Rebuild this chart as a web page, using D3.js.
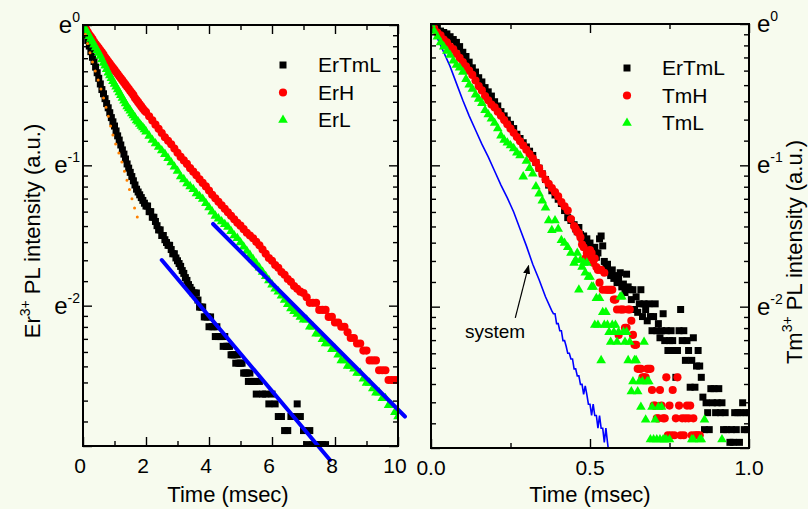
<!DOCTYPE html>
<html>
<head>
<meta charset="utf-8">
<script src="https://cdn.jsdelivr.net/npm/d3@7"></script>
<style>
  body { margin: 0; background: #f7fbee; }
  svg { display: block; font-family: "Liberation Sans", Arial, sans-serif; }
</style>
</head>
<body>
<svg id="chart" width="808" height="509"></svg>
<script>
'use strict';

// all intensities are stored as ln(I), plotted on an e-based log axis

// ---- left panel: Er3+ decay, time in msec
var leftTimes = [
  0, 0.05, 0.1, 0.15, 0.2, 0.25, 0.3, 0.35, 0.4, 0.45,
  0.5, 0.55, 0.6, 0.65, 0.7, 0.75, 0.8, 0.85, 0.9, 0.95,
  1, 1.05, 1.1, 1.15, 1.2, 1.25, 1.3, 1.35, 1.4, 1.45,
  1.5, 1.55, 1.6, 1.65, 1.7, 1.75, 1.8, 1.85, 1.9, 1.95,
  2, 2.1, 2.2, 2.3, 2.4, 2.5, 2.6, 2.7, 2.8, 2.9,
  3, 3.1, 3.2, 3.3, 3.4, 3.5, 3.6, 3.7, 3.8, 3.9,
  4, 4.1, 4.2, 4.3, 4.4, 4.5, 4.6, 4.7, 4.8, 4.9,
  5, 5.1, 5.2, 5.3, 5.4, 5.5, 5.6, 5.7, 5.8, 5.9,
  6, 6.1, 6.2, 6.3, 6.4, 6.5, 6.6, 6.7, 6.8, 6.9,
  7, 7.1, 7.2, 7.3, 7.4, 7.5, 7.6, 7.7, 7.8, 7.9,
  8, 8.1, 8.2, 8.3, 8.4, 8.5, 8.6, 8.7, 8.8, 8.9,
  9, 9.1, 9.2, 9.3, 9.4, 9.5, 9.6, 9.7, 9.8, 9.9,
  10
];
// ErTmL is sampled more finely where it falls steeply
var leftErTmLTimes = [
  0, 0.05, 0.1, 0.15, 0.2, 0.25, 0.3, 0.35, 0.4, 0.45,
  0.5, 0.55, 0.6, 0.65, 0.7, 0.75, 0.8, 0.85, 0.9, 0.95,
  1, 1.05, 1.1, 1.15, 1.2, 1.25, 1.3, 1.35, 1.4, 1.45,
  1.5, 1.55, 1.6, 1.65, 1.7, 1.75, 1.8, 1.85, 1.9, 1.95,
  2, 2.05, 2.1, 2.15, 2.2, 2.25, 2.3, 2.35, 2.4, 2.45,
  2.5, 2.55, 2.6, 2.65, 2.7, 2.75, 2.8, 2.85, 2.9, 2.95,
  3, 3.05, 3.1, 3.15, 3.2, 3.25, 3.3, 3.35, 3.4, 3.45,
  3.5, 3.55, 3.6, 3.65, 3.7, 3.75, 3.8, 3.85, 3.9, 3.95,
  4, 4.05, 4.1, 4.15, 4.2, 4.25, 4.3, 4.35, 4.4, 4.45,
  4.5, 4.55, 4.6, 4.65, 4.7, 4.75, 4.8, 4.85, 4.9, 4.95,
  5, 5.05, 5.1, 5.15, 5.2, 5.25, 5.3, 5.35, 5.4, 5.45,
  5.5, 5.6, 5.7, 5.8, 5.9,
  6, 6.1, 6.2, 6.3, 6.4, 6.5, 6.6, 6.7, 6.8, 6.9,
  7, 7.1, 7.2, 7.3, 7.4, 7.5, 7.6, 7.7
];
var leftErTmL = [
  0, -0.03, -0.07, -0.11, -0.15, -0.19, -0.23, -0.26, -0.30, -0.34,
  -0.38, -0.42, -0.46, -0.49, -0.525, -0.56, -0.59, -0.625, -0.66, -0.69,
  -0.72, -0.755, -0.79, -0.82, -0.855, -0.89, -0.92, -0.955, -0.99, -1.02,
  -1.05, -1.08, -1.11, -1.14, -1.17, -1.19, -1.21, -1.23, -1.25, -1.27,
  -1.29, -1.29, -1.33, -1.33, -1.37, -1.37, -1.40, -1.43, -1.46, -1.46,
  -1.50, -1.50, -1.53, -1.55, -1.57, -1.57, -1.60, -1.63, -1.63, -1.66,
  -1.68, -1.70, -1.72, -1.75, -1.77, -1.80, -1.82, -1.85, -1.87, -1.89,
  -1.91, -1.91, -1.91, -1.96, -2.01, -2.01, -2.01, -2.08, -2.08, -2.08,
  -2.15, -2.08, -2.15, -2.15, -2.22, -2.15, -2.22, -2.22, -2.22, -2.29,
  -2.22, -2.29, -2.29, -2.29, -2.35, -2.35, -2.35, -2.41, -2.35, -2.41,
  -2.41, -2.41, -2.48, -2.48, -2.48, -2.54, -2.48, -2.54, -2.54, -2.54,
  -2.63, -2.54, -2.63, -2.63, -2.70,
  -2.63, -2.70, -2.79, -2.79, -2.89, -2.89, -2.79, -2.79, -2.70, -2.79,
  -2.89, -2.99, -2.89, -2.99, -2.99, -2.99, -2.99, -2.99
];
var leftErH = [
  0, -0.015, -0.03, -0.05, -0.07, -0.085, -0.10, -0.12, -0.135, -0.15,
  -0.165, -0.18, -0.195, -0.21, -0.23, -0.245, -0.26, -0.275, -0.29, -0.305,
  -0.32, -0.335, -0.35, -0.365, -0.38, -0.395, -0.41, -0.425, -0.44, -0.455,
  -0.47, -0.485, -0.50, -0.52, -0.535, -0.55, -0.565, -0.58, -0.595, -0.61,
  -0.62, -0.65, -0.68, -0.71, -0.74, -0.77, -0.80, -0.825, -0.85, -0.88,
  -0.91, -0.94, -0.965, -0.99, -1.02, -1.045, -1.07, -1.10, -1.125, -1.15,
  -1.18, -1.21, -1.235, -1.26, -1.285, -1.31, -1.335, -1.36, -1.385, -1.41,
  -1.43, -1.455, -1.48, -1.50, -1.52, -1.545, -1.57, -1.60, -1.63, -1.66,
  -1.68, -1.71, -1.73, -1.76, -1.78, -1.81, -1.83, -1.86, -1.88, -1.90,
  -1.91, -1.94, -1.98, -1.98, -1.98, -2.03, -2.03, -2.03, -2.08, -2.08,
  -2.12, -2.12, -2.15, -2.15, -2.19, -2.23, -2.23, -2.27, -2.27, -2.32,
  -2.32, -2.39, -2.39, -2.39, -2.46, -2.46, -2.46, -2.53, -2.53, -2.53,
  -2.53
];
var leftErL = [
  0, -0.02, -0.04, -0.06, -0.08, -0.10, -0.12, -0.14, -0.16, -0.18,
  -0.20, -0.22, -0.245, -0.27, -0.29, -0.315, -0.34, -0.36, -0.38, -0.40,
  -0.42, -0.44, -0.46, -0.48, -0.50, -0.52, -0.54, -0.56, -0.58, -0.595,
  -0.61, -0.63, -0.645, -0.66, -0.68, -0.69, -0.705, -0.72, -0.73, -0.745,
  -0.76, -0.79, -0.82, -0.845, -0.87, -0.895, -0.92, -0.95, -0.98, -1.01,
  -1.04, -1.08, -1.10, -1.13, -1.15, -1.17, -1.20, -1.22, -1.24, -1.27,
  -1.30, -1.33, -1.36, -1.38, -1.40, -1.42, -1.44, -1.47, -1.50, -1.52,
  -1.55, -1.58, -1.61, -1.64, -1.67, -1.70, -1.73, -1.76, -1.79, -1.82,
  -1.85, -1.88, -1.90, -1.93, -1.96, -1.99, -2.02, -2.04, -2.06, -2.08,
  -2.10, -2.10, -2.15, -2.15, -2.20, -2.20, -2.24, -2.27, -2.27, -2.31,
  -2.31, -2.35, -2.39, -2.39, -2.43, -2.43, -2.45, -2.48, -2.48, -2.52,
  -2.55, -2.55, -2.59, -2.62, -2.62, -2.66, -2.66, -2.71, -2.71, -2.76,
  -2.79
];
// fitted curves (orange: initial fast decay, blue: single exponentials)
var fitFastTimes = [0, 0.276, 0.594, 0.752, 0.962, 1.229, 1.42, 1.6, 1.81];
var fitFastValues = [0, -0.243, -0.474, -0.604, -0.795, -0.973, -1.127, -1.275, -1.432];
var fitErTmLTimes = [2.5, 7.84];
var fitErTmLValues = [-1.675, -3.10];
var fitErLTimes = [4.13, 10.22];
var fitErLValues = [-1.418, -2.79];

// ---- right panel: Tm3+ decay, time in msec
var rightTimes = [
  0, 0.01, 0.02, 0.03, 0.04, 0.05, 0.06, 0.07, 0.08, 0.09,
  0.1, 0.11, 0.12, 0.13, 0.14, 0.15, 0.16, 0.17, 0.18, 0.19,
  0.2, 0.21, 0.22, 0.23, 0.24, 0.25, 0.26, 0.27, 0.28, 0.29,
  0.3, 0.31, 0.32, 0.33, 0.34, 0.35, 0.36, 0.37, 0.38, 0.39,
  0.4, 0.41, 0.42, 0.43, 0.44, 0.45,
  0.455, 0.46, 0.465, 0.47, 0.475, 0.48, 0.485, 0.49, 0.495, 0.5,
  0.505, 0.51, 0.515, 0.52, 0.525, 0.53, 0.535, 0.54, 0.545, 0.55,
  0.555, 0.56, 0.565, 0.57, 0.575, 0.58, 0.585, 0.59, 0.595, 0.6,
  0.605, 0.61, 0.615, 0.62, 0.625, 0.63, 0.635, 0.64, 0.645, 0.65,
  0.655, 0.66, 0.665, 0.67, 0.675, 0.68, 0.685, 0.69, 0.695, 0.7,
  0.705, 0.71, 0.715, 0.72, 0.725, 0.73, 0.735, 0.74, 0.745, 0.75,
  0.755, 0.76, 0.765, 0.77, 0.775, 0.78, 0.785, 0.79, 0.795, 0.8,
  0.805, 0.81, 0.815, 0.82, 0.825, 0.83, 0.835, 0.84, 0.845, 0.85,
  0.855, 0.86, 0.865, 0.87, 0.875, 0.88, 0.885, 0.89, 0.895, 0.9,
  0.905, 0.91, 0.915, 0.92, 0.925, 0.93, 0.935, 0.94, 0.945, 0.95,
  0.955, 0.96, 0.965, 0.97, 0.975, 0.98, 0.985, 0.99, 0.995, 1
];
var rightErTmL = [
  0, -0.02, -0.03, -0.05, -0.06, -0.07, -0.09, -0.11, -0.13, -0.16,
  -0.20, -0.23, -0.27, -0.31, -0.34, -0.38, -0.41, -0.45, -0.48, -0.51,
  -0.55, -0.58, -0.62, -0.65, -0.68, -0.71, -0.74, -0.78, -0.81, -0.84,
  -0.87, -0.90, -0.93, -0.98, -1.02, -1.06, -1.10, -1.14, -1.18, -1.21,
  -1.24, -1.27, -1.32, -1.37, -1.39, -1.42,
  -1.45, -1.47, -1.44, -1.49, -1.52, -1.50, -1.55, -1.52, -1.58, -1.55,
  -1.60, -1.62, -1.58, -1.65, -1.62, -1.52, -1.50, -1.57, -1.68, -1.72,
  -1.70, -1.75, -1.78, -1.74, -1.80, -1.78, -1.83, -1.80, -1.76, -1.86,
  -1.84, -1.90, -1.77, -1.86, -1.88, -1.95, -1.88, -2.02, -1.93, -2.04,
  -1.98, -1.88, -2.07, -1.98, -2.02, -2.10, -1.98, -2.07, -2.17, -2.07,
  -1.98, -2.17, -2.12, -2.22, -2.17, -2.05, -2.24, -2.17, -2.31, -2.24,
  -2.17, -2.24, -2.31, -2.50, -2.31, -2.17, -2.02, -2.24, -2.17, -2.38,
  -2.24, -2.31, -2.57, -2.38, -2.22, -2.57, -2.42, -2.31, -2.42, -2.50,
  -2.64, -2.87, -2.68, -2.75, -2.87, -2.58, -2.68, -2.58, -2.75, -2.68,
  -2.58, -2.75, -2.68, -2.87, -2.75, -2.87, null, -2.96, -2.87, -2.96,
  -2.75, -2.87, -2.75, -2.96, -2.75, -2.68, -2.87, -2.75, -2.87, -2.75
];
var rightTmH = [
  0, -0.03, -0.06, -0.08, -0.11, -0.13, -0.16, -0.18, -0.21, -0.24,
  -0.27, -0.30, -0.33, -0.36, -0.40, -0.44, -0.47, -0.51, -0.54, -0.57,
  -0.59, -0.62, -0.65, -0.68, -0.71, -0.74, -0.77, -0.80, -0.83, -0.86,
  -0.89, -0.92, -0.95, -0.98, -1.02, -1.06, -1.10, -1.13, -1.16, -1.19,
  -1.22, -1.26, -1.29, -1.32, -1.38, -1.43,
  -1.45, -1.47, -1.48, -1.51, -1.56, -1.58, -1.66, -1.62, -1.65, -1.60,
  -1.62, -1.69, -1.66, -1.72, -1.74, -1.83, -1.74, -1.88, -1.76, -1.88,
  -1.88, -1.88, -1.88, -1.88, -1.95, -1.95, -2.02, -2.20, -2.02, -2.02,
  -2.02, -2.15, -2.15, -2.02, -2.02, -2.10, -2.20, -2.27, -2.27, -2.44,
  -2.44, -2.44, -2.50, -2.50, -2.50, -2.44, -2.44, -2.44, -2.59, -2.70,
  -2.70, -2.79, -2.79, -2.59, -2.70, -2.79, -2.79, -2.50, -2.91, -2.70,
  -2.91, -2.59, -2.91, -2.79, -2.50, -2.70, -2.91, -2.79, -2.91, -2.79,
  -2.70, -2.79, -2.70, -2.91, -2.79, -2.91, -2.91, -2.91, -2.91
];
var rightTmL = [
  0, -0.05, -0.09, -0.13, -0.16, -0.19, -0.22, -0.26, -0.29, -0.31,
  -0.34, -0.39, -0.43, -0.46, -0.50, -0.53, -0.56, -0.61, -0.64, -0.67,
  -0.70, -0.74, -0.79, -0.82, -0.84, -0.86, -0.88, -0.91, -0.93, -1.08,
  -0.97, -1.02, -1.06, -1.15, -1.20, -1.25, -1.30, -1.39, -1.46, -1.39,
  -1.45, -1.53, -1.55, -1.58, -1.62, -1.69,
  -1.67, -1.62, -1.88, -1.67, -1.72, -1.69, -1.76, -1.69, -1.79, -1.79,
  -1.86, -1.86, -2.13, -1.94, -2.13, -1.94, -2.38, -2.04, -2.13, -2.04,
  -2.13, -2.18, -2.25, -2.13, -2.18, -2.13, -2.25, -2.18, -1.93, -1.93,
  -2.18, -2.25, -2.18, -2.38, -2.25, -2.60, -2.53, -2.38, -2.38, -2.60,
  -2.53, -2.71, -2.53, -2.25, -2.80, -2.53, -2.53, -2.94, -2.71, -2.94,
  -2.80, -2.94, -2.71, -2.94, -2.71, -2.94, -2.94, -2.94, null, -2.94,
  null, null, null, null, null, null, null, null, null, null,
  null, null, null, -2.94, -2.94, null, null, null, -2.94, -2.94,
  null, -2.80, null, null, null, null, null, null, null, null,
  null, null, -2.94
];
// instrument response ("system")
var systemTimes = [
  0, 0.02, 0.04, 0.06, 0.08, 0.1, 0.12, 0.14, 0.16, 0.18,
  0.2, 0.22, 0.24, 0.26, 0.28, 0.3, 0.32, 0.34, 0.36, 0.38,
  0.385, 0.39, 0.395, 0.4, 0.405, 0.41, 0.415, 0.42, 0.425, 0.43,
  0.435, 0.44, 0.445, 0.45, 0.455, 0.46, 0.465, 0.47, 0.475, 0.48,
  0.485, 0.49, 0.495, 0.5, 0.505, 0.51, 0.515, 0.52, 0.525, 0.53,
  0.535, 0.54, 0.545, 0.55, 0.555, 0.56
];
var systemValues = [
  0, -0.10, -0.20, -0.30, -0.42, -0.54, -0.65, -0.75, -0.85, -0.94,
  -1.04, -1.14, -1.23, -1.33, -1.45, -1.57, -1.70, -1.81, -1.93, -2.03,
  -2.05, -2.05, -2.12, -2.12, -2.17, -2.17, -2.24, -2.24, -2.28, -2.33,
  -2.33, -2.37, -2.37, -2.44, -2.44, -2.49, -2.49, -2.55, -2.55, -2.62,
  -2.56, -2.62, -2.69, -2.69, -2.77, -2.69, -2.77, -2.77, -2.86, -2.77,
  -2.86, -2.86, -2.96, -2.86, -2.96, -3.05
];

var leftTicks = [0, 2, 4, 6, 8, 10];
var leftMinor = [1, 3, 5, 7, 9];
var rightTicks = [0, 0.5, 1];
var rightMinor = [0.25, 0.75];
var yExponents = [0, -1, -2, -3];

var svg = d3.select('#chart');

var leftX = d3.scaleLinear().domain([0, 10]).range([83, 398]);
var leftY = d3.scaleLog().base(Math.E).domain([Math.exp(-3), 1]).range([446, 25]);
var rightX = d3.scaleLinear().domain([0, 1]).range([431, 749]);
var rightY = d3.scaleLog().base(Math.E).domain([Math.exp(-3), 1]).range([448, 24]);

// Origin-style ln axis: 8 linear minor ticks between each power of e
var yMajor = yExponents.map(function(e) { return Math.exp(e); });
var yMinor = [];
for (var k = 0; k < 3; k++) {
    var hi = Math.exp(-k), lo = Math.exp(-k - 1);
    for (var j = 1; j <= 8; j++) yMinor.push(hi - j * (hi - lo) / 9);
}

function toPairs(times, values) {
    return values.map(function(v, i) { return [times[i], v]; })
        .filter(function(d) { return d[1] !== null; });
}

function DrawFrame(x, y, xMajor, xMinor) {
    var xa = x.range()[0], xb = x.range()[1];
    var yb = y.range()[0], ya = y.range()[1];
    var g = svg.append('g');
    var sides = [
        [d3.axisBottom, x, 'translate(0,' + yb + ')', xMajor, xMinor],
        [d3.axisTop, x, 'translate(0,' + ya + ')', xMajor, xMinor],
        [d3.axisLeft, y, 'translate(' + xa + ',0)', yMajor, yMinor],
        [d3.axisRight, y, 'translate(' + xb + ',0)', yMajor, yMinor]
    ];
    sides.forEach(function(s) {
        [[s[3], 9], [s[4], 5]].forEach(function(t) {
            g.append('g')
                .attr('transform', s[2])
                .call(s[0](s[1]).tickValues(t[0]).tickSize(-t[1]).tickSizeOuter(0).tickFormat(''))
                .call(function(a) { a.select('.domain').remove(); })
                .selectAll('line').attr('stroke', '#000').attr('stroke-width', 1.4);
        });
    });
    g.append('rect')
        .attr('x', xa).attr('y', ya)
        .attr('width', xb - xa).attr('height', yb - ya)
        .attr('fill', 'none').attr('stroke', '#000').attr('stroke-width', 2);
}

function DrawXLabels(x, y, values, fmt, dx) {
    var yb = y.range()[0];
    svg.append('g').selectAll('text').data(values).enter()
        .append('text')
            .attr('x', function(d) { return x(d) + dx; })
            .attr('y', yb + 27)
            .attr('text-anchor', 'middle')
            .style('font-size', '21px')
            .text(fmt);
}

function DrawYLabels(y, xPos, anchor) {
    var g = svg.append('g');
    [0, -1, -2].forEach(function(e) {
        var t = g.append('text')
            .attr('x', xPos)
            .attr('y', y(Math.exp(e)) + 8)
            .attr('text-anchor', anchor)
            .style('font-size', '24px');
        t.append('tspan').text('e');
        t.append('tspan').attr('dy', -11).style('font-size', '14px').text(e === 0 ? '0' : String(e));
    });
}

function DrawYTitle(xPos, yPos, ion) {
    var t = svg.append('text')
        .attr('transform', 'translate(' + xPos + ',' + yPos + ') rotate(-90)')
        .attr('text-anchor', 'middle')
        .style('font-size', '22px');
    t.append('tspan').text(ion);
    t.append('tspan').attr('dy', -10).style('font-size', '14px').text('3+');
    t.append('tspan').attr('dy', 10).text(' PL intensity (a.u.)');
}

var symbols = {
    square: d3.symbol().type(d3.symbolSquare).size(49),
    circle: d3.symbol().type(d3.symbolCircle).size(52),
    triangle: d3.symbol().type(d3.symbolTriangle).size(40)
};

function DrawMarkers(parent, x, y, data, shape, color) {
    parent.append('g').selectAll('path').data(data).enter()
        .append('path')
            .attr('transform', function(d) { return 'translate(' + x(d[0]) + ',' + y(Math.exp(d[1])) + ')'; })
            .attr('d', symbols[shape])
            .attr('fill', color);
}

function DrawLegend(xMark, yFirst, names) {
    var shapes = ['square', 'circle', 'triangle'];
    var colors = ['#000000', '#ff0000', '#00ff00'];
    var g = svg.append('g');
    names.forEach(function(name, i) {
        var yy = yFirst + i * 27.5;
        g.append('path')
            .attr('transform', 'translate(' + xMark + ',' + yy + ')')
            .attr('d', symbols[shapes[i]])
            .attr('fill', colors[i]);
        g.append('text')
            .attr('x', xMark + 35)
            .attr('y', yy + 7)
            .style('font-size', '21px')
            .text(name);
    });
}

var defs = svg.append('defs');
defs.append('clipPath').attr('id', 'clipLeft').append('rect')
    .attr('x', 83).attr('y', 25).attr('width', 315).attr('height', 421);
defs.append('clipPath').attr('id', 'clipRight').append('rect')
    .attr('x', 431).attr('y', 24).attr('width', 318).attr('height', 424);
defs.append('marker')
    .attr('id', 'arrowHead')
    .attr('viewBox', '0 0 10 10')
    .attr('refX', 9).attr('refY', 5)
    .attr('markerWidth', 9).attr('markerHeight', 9)
    .attr('markerUnits', 'userSpaceOnUse')
    .attr('orient', 'auto')
    .append('path').attr('d', 'M0,1 L10,5 L0,9 Z').attr('fill', '#000');

// ---------- left panel
var leftPlot = svg.append('g').attr('clip-path', 'url(#clipLeft)');
DrawMarkers(leftPlot, leftX, leftY, toPairs(leftErTmLTimes, leftErTmL), 'square', '#000000');
DrawMarkers(leftPlot, leftX, leftY, toPairs(leftTimes, leftErH), 'circle', '#ff0000');
DrawMarkers(leftPlot, leftX, leftY, toPairs(leftTimes, leftErL), 'triangle', '#00ff00');

var leftLine = d3.line()
    .x(function(d) { return leftX(d[0]); })
    .y(function(d) { return leftY(Math.exp(d[1])); });
leftPlot.append('path')
    .datum(toPairs(fitFastTimes, fitFastValues))
    .attr('d', leftLine.curve(d3.curveMonotoneX))
    .attr('fill', 'none')
    .attr('stroke', '#ff8000')
    .attr('stroke-width', 3)
    .attr('stroke-linecap', 'round')
    .attr('stroke-dasharray', '0 9.5');
leftLine.curve(d3.curveLinear);
[[fitErTmLTimes, fitErTmLValues], [fitErLTimes, fitErLValues]].forEach(function(f) {
    svg.append('path')
        .datum(toPairs(f[0], f[1]))
        .attr('d', leftLine)
        .attr('fill', 'none')
        .attr('stroke', '#0000ff')
        .attr('stroke-width', 4)
        .attr('stroke-linecap', 'round');
});

DrawFrame(leftX, leftY, leftTicks, leftMinor);
DrawXLabels(leftX, leftY, leftTicks, function(d) { return String(d); }, -3);
DrawYLabels(leftY, 80, 'end');
DrawYTitle(40, 231, 'Er');
DrawLegend(283, 65, ['ErTmL', 'ErH', 'ErL']);
svg.append('text')
    .attr('x', 228).attr('y', 502)
    .attr('text-anchor', 'middle')
    .style('font-size', '22px')
    .text('Time (msec)');

// ---------- right panel
var rightPlot = svg.append('g').attr('clip-path', 'url(#clipRight)');
rightPlot.append('path')
    .datum(toPairs(systemTimes, systemValues))
    .attr('d', d3.line()
        .x(function(d) { return rightX(d[0]); })
        .y(function(d) { return rightY(Math.exp(d[1])); }))
    .attr('fill', 'none')
    .attr('stroke', '#0000ff')
    .attr('stroke-width', 1.6);
DrawMarkers(rightPlot, rightX, rightY, toPairs(rightTimes, rightErTmL), 'square', '#000000');
DrawMarkers(rightPlot, rightX, rightY, toPairs(rightTimes, rightTmH), 'circle', '#ff0000');
DrawMarkers(rightPlot, rightX, rightY, toPairs(rightTimes, rightTmL), 'triangle', '#00ff00');

// "system" annotation, placed in data units
svg.append('line')
    .attr('x1', rightX(0.265)).attr('y1', rightY(Math.exp(-2.08)))
    .attr('x2', rightX(0.307)).attr('y2', rightY(Math.exp(-1.71)))
    .attr('stroke', '#000').attr('stroke-width', 1.2)
    .attr('marker-end', 'url(#arrowHead)');
svg.append('text')
    .attr('x', rightX(0.107)).attr('y', rightY(Math.exp(-2.22)))
    .style('font-size', '19px')
    .text('system');

DrawFrame(rightX, rightY, rightTicks, rightMinor);
DrawXLabels(rightX, rightY, rightTicks, d3.format('.1f'), 0);
DrawYLabels(rightY, 757, 'start');
DrawYTitle(802, 252, 'Tm');
DrawLegend(627, 68, ['ErTmL', 'TmH', 'TmL']);
svg.append('text')
    .attr('x', 590).attr('y', 502)
    .attr('text-anchor', 'middle')
    .style('font-size', '22px')
    .text('Time (msec)');
</script>
</body>
</html>
